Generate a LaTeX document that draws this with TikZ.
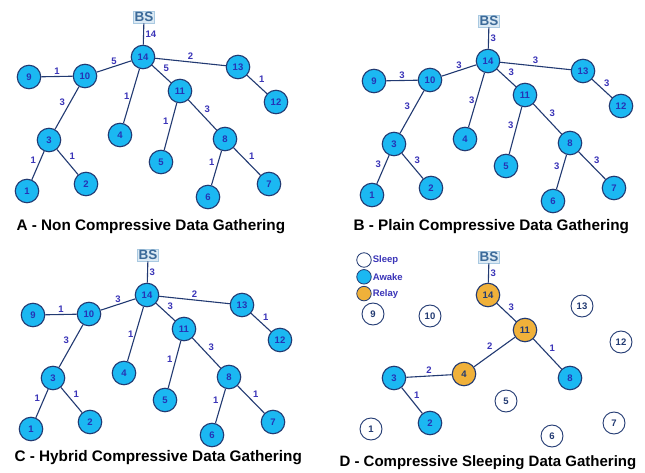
\documentclass[tikz,border=0pt]{standalone}
\usepackage{fontspec}
\setmainfont{Liberation Sans}
\usepackage{tikz}
\usetikzlibrary{positioning}

\definecolor{awakecyan}{HTML}{1BB8F2}
\definecolor{relayorange}{HTML}{F0B13A}
\definecolor{edgenavy}{HTML}{223A72}
\definecolor{numblue}{HTML}{2633B5}
\definecolor{lblblue}{HTML}{3A34B8}
\definecolor{bsfill}{HTML}{DCEAF4}
\definecolor{bsline}{HTML}{A9C9E1}
\definecolor{bstext}{HTML}{3C6A99}

% positions of the 14 sensors (panels A, B, C)
\def\treenodes{14/143/57, 10/85/76, 9/29/77, 13/238/67, 12/276/102, 11/180/91, 4/120/135,
  3/49/140, 1/27/191, 2/86/184, 5/161/162, 8/225/139, 6/208/197, 7/269/184}

\begin{document}
\begin{tikzpicture}[x=1pt, y=-1pt,
awakenode/.style={circle, draw=edgenavy, fill=awakecyan, line width=1.1pt, minimum size=23.5pt, inner sep=0pt, text=numblue, font=\bfseries\fontsize{9.5}{10}\selectfont},
relaynode/.style={awakenode, fill=relayorange, text=edgenavy},
sleepnode/.style={awakenode, fill=white, line width=0.9pt, minimum size=22pt, text=edgenavy},
bsnode/.style={rectangle, draw=bsline, fill=bsfill, inner sep=1.3pt, text=bstext, font=\bfseries\fontsize{13.5}{13.5}\selectfont},
link/.style={draw=edgenavy, line width=1.1pt},
lbl/.style={text=lblblue, font=\bfseries\fontsize{9.5}{9.5}\selectfont, inner sep=1.5pt},
legendnode/.style={circle, draw=edgenavy, line width=0.8pt, minimum size=14.5pt, inner sep=0pt},
legendtext/.style={text=lblblue, font=\bfseries\fontsize{9.5}{10}\selectfont, inner sep=1pt},
paneltitle/.style={anchor=west, font=\bfseries\fontsize{15.3}{15.3}\selectfont},
]
\useasboundingbox[fill=white] (0,0) rectangle (645,473);

%Panel A
\begin{scope}[name prefix=a-]
\foreach \n/\x/\y in \treenodes {\node[awakenode] (\n) at (\x,\y) {\n};}
\node[bsnode] (BS) at (144,17) {BS};
\draw[link] (BS) -- (14) node[lbl, midway, right] {14};
\foreach \u/\v/\s/\w in {14/10/above/5, 10/9/above/1, 14/13/above/2, 14/11/above right/5,
  13/12/above right/1, 10/3/above left/3, 14/4/left/1, 11/5/above left/1, 11/8/above right/3,
  3/1/above left/1, 3/2/above right/1, 8/6/above left/1, 8/7/above right/1}
  {\draw[link] (\u) -- (\v) node[lbl, midway, \s] {\w};}
\node[paneltitle] (titleA) at (13,227) {A - Non Compressive Data Gathering};
\end{scope}

%Panel B
\begin{scope}[shift={(345,4)}, name prefix=b-]
\foreach \n/\x/\y in \treenodes {\node[awakenode] (\n) at (\x,\y) {\n};}
\node[bsnode] (BS) at (144,17) {BS};
\draw[link] (BS) -- (14) node[lbl, midway, right] {3};
\foreach \u/\v/\s/\w in {14/10/above/3, 10/9/above/3, 14/13/above/3, 14/11/above right/3,
  13/12/above right/3, 10/3/above left/3, 14/4/left/3, 11/5/above left/3, 11/8/above right/3,
  3/1/above left/3, 3/2/above right/3, 8/6/above left/3, 8/7/above right/3}
  {\draw[link] (\u) -- (\v) node[lbl, midway, \s] {\w};}
\end{scope}
\node[paneltitle] (titleB) at (350,227) {B - Plain Compressive Data Gathering};

%Panel C
\begin{scope}[shift={(4,238)}, name prefix=c-]
\foreach \n/\x/\y in \treenodes {\node[awakenode] (\n) at (\x,\y) {\n};}
\node[bsnode] (BS) at (144,17) {BS};
\draw[link] (BS) -- (14) node[lbl, midway, right] {3};
\foreach \u/\v/\s/\w in {14/10/above/3, 10/9/above/1, 14/13/above/2, 14/11/above right/3,
  13/12/above right/1, 10/3/above left/3, 14/4/left/1, 11/5/above left/1, 11/8/above right/3,
  3/1/above left/1, 3/2/above right/1, 8/6/above left/1, 8/7/above right/1}
  {\draw[link] (\u) -- (\v) node[lbl, midway, \s] {\w};}
\end{scope}
\node[paneltitle] (titleC) at (11,458) {C - Hybrid Compressive Data Gathering};

%Panel D
\begin{scope}[name prefix=d-]
\foreach \n/\x/\y in {9/373/314, 10/430/316, 13/582/306, 12/621/342, 5/506/401,
  1/371/429, 6/552/436, 7/614/423}
  {\node[sleepnode] (\n) at (\x,\y) {\n};}
\foreach \n/\x/\y in {3/394/378, 2/430/423, 8/570/378}
  {\node[awakenode] (\n) at (\x,\y) {\n};}
\foreach \n/\x/\y in {14/488/295, 11/525/330, 4/464/374}
  {\node[relaynode] (\n) at (\x,\y) {\n};}
\node[bsnode] (BS) at (489,257) {BS};
\draw[link] (BS) -- (14) node[lbl, midway, right] {3};
\draw[link] (14) -- (11) node[lbl, midway, above right] {3};
\draw[link] (11) -- (4) node[lbl, midway, above left] {2};
\draw[link] (11) -- (8) node[lbl, midway, above right] {1};
\draw[link] (3) -- (4) node[lbl, midway, above] {2};
\draw[link] (3) -- (2) node[lbl, midway, above right] {1};
%Legend
\node[legendnode, fill=white] (sleepkey) at (364,260) {};
\node[legendnode, fill=awakecyan] (awakekey) [below=1.5pt of sleepkey] {};
\node[legendnode, fill=relayorange] (relaykey) [below=1.5pt of awakekey] {};
\node[legendtext, right=0pt of sleepkey] {Sleep};
\node[legendtext, right=0pt of awakekey] {Awake};
\node[legendtext, right=0pt of relaykey] {Relay};
\end{scope}
\node[paneltitle, font=\bfseries\fontsize{15}{15}\selectfont] (titleD) at (336,463) {D - Compressive Sleeping Data Gathering};

\end{tikzpicture}
\end{document}
